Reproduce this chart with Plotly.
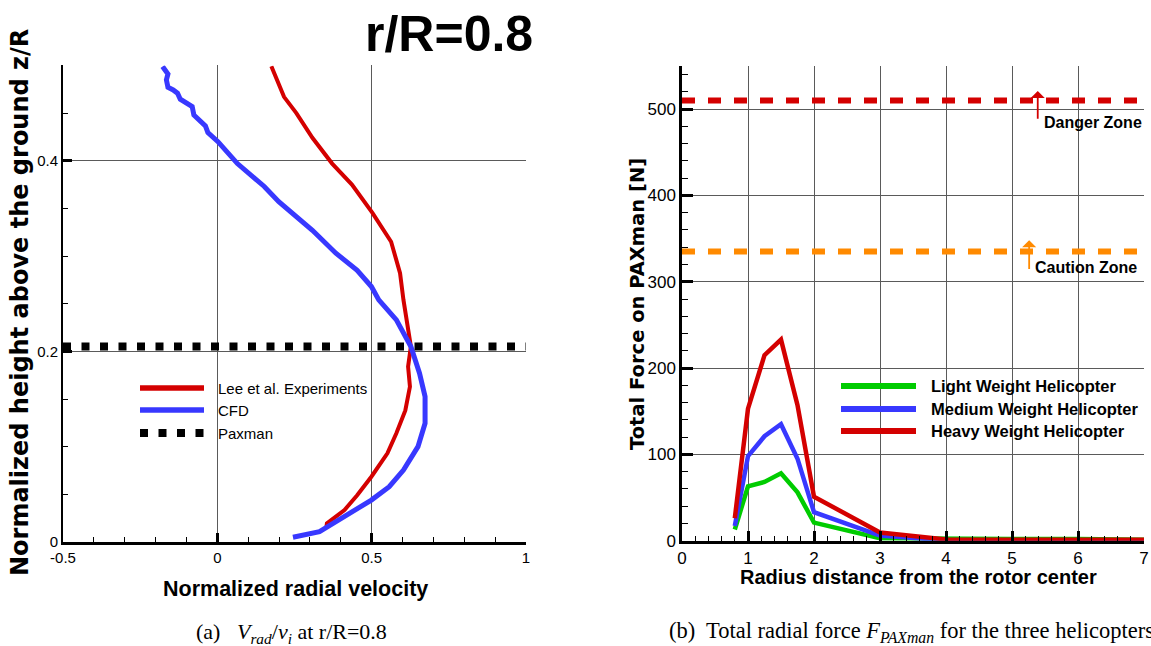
import plotly.graph_objects as go

W, H = 1151, 646

# ---------------- data: left panel (r/R = 0.8) ----------------
lee_x = [0.175, 0.216, 0.256, 0.308, 0.372, 0.436, 0.503, 0.563, 0.592, 0.603,
         0.627, 0.618, 0.624, 0.609, 0.580, 0.551, 0.499, 0.453, 0.412, 0.355, 0.353]
lee_z = [0.499, 0.467, 0.450, 0.424, 0.397, 0.375, 0.345, 0.315, 0.282, 0.254,
         0.205, 0.184, 0.163, 0.138, 0.114, 0.093, 0.0685, 0.049, 0.0336, 0.0196, 0.0147]

cfd_x = [-0.1775, -0.169, -0.160, -0.165, -0.160, -0.143, -0.129, -0.120, -0.102, -0.0815,
         -0.076, -0.056, -0.0386, -0.0306, 0.002, 0.065, 0.152, 0.199, 0.308, 0.384,
         0.453, 0.499, 0.523, 0.580, 0.627, 0.655, 0.673, 0.673, 0.650, 0.603,
         0.557, 0.499, 0.430, 0.360, 0.331, 0.245]
cfd_z = [0.4988, 0.4953, 0.491, 0.4848, 0.477, 0.4743, 0.4708, 0.4645, 0.4603, 0.4568,
         0.448, 0.442, 0.4365, 0.4295, 0.420, 0.397, 0.373, 0.357, 0.327, 0.303,
         0.285, 0.268, 0.254, 0.233, 0.205, 0.177, 0.1525, 0.1245, 0.100, 0.0755,
         0.058, 0.044, 0.030, 0.016, 0.0108, 0.005]

paxman_x = [-0.5, 1.0]
paxman_z = [0.205, 0.205]

left_xticks = [-0.5, 0, 0.5, 1]
left_xticktext = ["-0.5", "0", "0.5", "1"]
left_yticks = [0, 0.2, 0.4]
left_yticktext = ["0", "0.2", "0.4"]

# ---------------- data: right panel (total force) ----------------
radius = [0.8, 1.0, 1.25, 1.5, 1.75, 2.0, 3.0, 4.0, 5.0, 6.0, 7.0]
light_force = [13, 63, 68, 78, 56, 21, 2.8, 2.0, 2.0, 2.0, 1.0]
medium_force = [17, 98, 121, 135, 95, 33, 6, 0.4, 0.4, 0.4, 0.4]
heavy_force = [26, 153, 215, 233, 157, 51, 9.5, 1.5, 1.0, 1.0, 1.0]

zone_x = [0, 7]
danger_force = [510, 510]
caution_force = [335, 335]

right_xticks = [0, 1, 2, 3, 4, 5, 6, 7]
right_yticks = [0, 100, 200, 300, 400, 500]

# ---------------- styling ----------------
RED = "#d40000"
BLUE = "#3838ff"
GREEN = "#00cc00"
ORANGE = "#ff8a00"
SANS = "Liberation Sans, Arial, sans-serif"
SERIF = "Liberation Serif, Times New Roman, serif"
WIDE_B = "DejaVu Sans, Verdana, sans-serif"


def PX(px):
    return px / W


def PY(py):
    return 1 - py / H


fig = go.Figure()

fig.add_trace(go.Scatter(x=lee_x, y=lee_z, mode="lines", xaxis="x", yaxis="y",
                         line=dict(color=RED, width=4), name="Lee et al. Experiments"))
fig.add_trace(go.Scatter(x=cfd_x, y=cfd_z, mode="lines", xaxis="x", yaxis="y",
                         line=dict(color=BLUE, width=5), name="CFD"))
fig.add_trace(go.Scatter(x=paxman_x, y=paxman_z, mode="lines", xaxis="x", yaxis="y",
                         line=dict(color="black", width=8, dash="8px,10.5px"), name="Paxman"))

fig.add_trace(go.Scatter(x=zone_x, y=danger_force, mode="lines", xaxis="x2", yaxis="y2",
                         line=dict(color=RED, width=6, dash="13px,13px"), name="Danger"))
fig.add_trace(go.Scatter(x=zone_x, y=caution_force, mode="lines", xaxis="x2", yaxis="y2",
                         line=dict(color=ORANGE, width=6, dash="13px,13px"), name="Caution"))
fig.add_trace(go.Scatter(x=radius, y=light_force, mode="lines", xaxis="x2", yaxis="y2",
                         line=dict(color=GREEN, width=4.5), name="Light Weight Helicopter"))
fig.add_trace(go.Scatter(x=radius, y=medium_force, mode="lines", xaxis="x2", yaxis="y2",
                         line=dict(color=BLUE, width=4.5), name="Medium Weight Helicopter"))
fig.add_trace(go.Scatter(x=radius, y=heavy_force, mode="lines", xaxis="x2", yaxis="y2",
                         line=dict(color=RED, width=4.5), name="Heavy Weight Helicopter"))

GRID = "#5a5a5a"

fig.update_layout(
    width=W, height=H,
    margin=dict(l=0, r=0, t=0, b=0, autoexpand=False),
    paper_bgcolor="white", plot_bgcolor="white",
    showlegend=False,
    xaxis=dict(domain=[PX(63), PX(526)], range=[-0.5, 1], anchor="y", automargin=False,
               tickmode="array", tickvals=left_xticks, ticktext=left_xticktext,
               ticks="inside", ticklen=9, tickwidth=2.5, tickcolor="black",
               showline=True, linecolor="black", linewidth=3,
               showgrid=True, gridcolor=GRID, gridwidth=1, zeroline=False,
               tickfont=dict(family=SANS, size=15, color="black"),
               minor=dict(tickmode="linear", tick0=-0.5, dtick=0.1, ticks="inside",
                          ticklen=5, tickwidth=1, tickcolor="black", showgrid=False)),
    yaxis=dict(domain=[PY(542), PY(65.4)], range=[0, 0.5], anchor="x", automargin=False,
               tickmode="array", tickvals=left_yticks, ticktext=left_yticktext,
               ticks="inside", ticklen=9, tickwidth=2.5, tickcolor="black",
               showline=True, linecolor="black", linewidth=2,
               showgrid=True, gridcolor=GRID, gridwidth=1, zeroline=False,
               tickfont=dict(family=SANS, size=15, color="black"),
               minor=dict(tickmode="linear", tick0=0, dtick=0.05, ticks="inside",
                          ticklen=5, tickwidth=1, tickcolor="black", showgrid=False)),
    xaxis2=dict(domain=[PX(682), PX(1144)], range=[0, 7], anchor="y2", automargin=False,
                tickmode="array", tickvals=right_xticks,
                ticks="inside", ticklen=10, tickwidth=3, tickcolor="black",
                showline=True, linecolor="black", linewidth=3,
                showgrid=True, gridcolor=GRID, gridwidth=1, zeroline=False,
                tickfont=dict(family=SANS, size=17, color="black"),
                minor=dict(tickmode="linear", tick0=0, dtick=0.2, ticks="inside",
                           ticklen=5, tickwidth=1, tickcolor="black", showgrid=False)),
    yaxis2=dict(domain=[PY(540.7), PY(66)], range=[0, 550], anchor="x2", automargin=False,
                tickmode="array", tickvals=right_yticks,
                ticks="inside", ticklen=11, tickwidth=3, tickcolor="black",
                showline=True, linecolor="black", linewidth=2.5,
                showgrid=True, gridcolor=GRID, gridwidth=1, zeroline=False,
                tickfont=dict(family=SANS, size=17, color="black"),
                minor=dict(tickmode="linear", tick0=0, dtick=20, ticks="inside",
                           ticklen=6, tickwidth=1, tickcolor="black", showgrid=False)),
)

ann = []
shapes = []

# titles / axis titles
ann.append(dict(text="<b>r/R=0.8</b>", x=PX(449), y=PY(34), xref="paper", yref="paper",
                showarrow=False, xanchor="center", yanchor="middle",
                font=dict(family=SANS, size=50, color="black")))
ann.append(dict(text="<b>Normalized radial velocity</b>", x=PX(295), y=PY(589),
                xref="paper", yref="paper", showarrow=False, xanchor="center", yanchor="middle",
                font=dict(family=SANS, size=21.5, color="black")))
ann.append(dict(text="<b>Normalized height above the ground z/R</b>", x=PX(20), y=PY(303),
                xref="paper", yref="paper", showarrow=False, textangle=-90,
                xanchor="center", yanchor="middle",
                font=dict(family=WIDE_B, size=24, color="black")))
ann.append(dict(text="<b>Radius distance from the rotor center</b>", x=PX(918), y=PY(577),
                xref="paper", yref="paper", showarrow=False, xanchor="center", yanchor="middle",
                font=dict(family=SANS, size=20, color="black")))
ann.append(dict(text="<b>Total Force on PAXman [N]</b>", x=PX(637), y=PY(304),
                xref="paper", yref="paper", showarrow=False, textangle=-90,
                xanchor="center", yanchor="middle",
                font=dict(family=WIDE_B, size=19.5, color="black")))

# captions
ann.append(dict(text="(a)&nbsp;&nbsp; <i>V<sub>rad</sub></i>/<i>v<sub>i</sub></i> at r/R=0.8",
                x=PX(291), y=PY(633), xref="paper", yref="paper", showarrow=False,
                xanchor="center", yanchor="middle",
                font=dict(family=SERIF, size=22, color="black")))
ann.append(dict(text="(b)  Total radial force <i>F<sub>PAXman</sub></i> for the three helicopters",
                x=PX(667), y=PY(632), xref="paper", yref="paper", showarrow=False,
                xanchor="left", yanchor="middle",
                font=dict(family=SERIF, size=22.5, color="black")))

# left legend
left_leg = [("Lee et al. Experiments", RED, None, 388, 5.5),
            ("CFD", BLUE, None, 410, 5.5),
            ("Paxman", "black", "8px,10.5px", 433, 8)]
for name, col, dash, py, lw in left_leg:
    shapes.append(dict(type="line", xref="paper", yref="paper", x0=PX(140), x1=PX(204),
                       y0=PY(py), y1=PY(py), line=dict(color=col, width=lw, dash=dash)))
    ann.append(dict(text=name, x=PX(216), y=PY(py), xref="paper", yref="paper",
                    showarrow=False, xanchor="left", yanchor="middle",
                    font=dict(family=SANS, size=15, color="black")))

# right legend
right_leg = [("Light Weight Helicopter", GREEN, 386),
             ("Medium Weight Helicopter", BLUE, 409),
             ("Heavy Weight Helicopter", RED, 431)]
for name, col, py in right_leg:
    shapes.append(dict(type="line", xref="paper", yref="paper", x0=PX(841), x1=PX(916),
                       y0=PY(py), y1=PY(py), line=dict(color=col, width=6)))
    ann.append(dict(text="<b>" + name + "</b>", x=PX(929), y=PY(py), xref="paper", yref="paper",
                    showarrow=False, xanchor="left", yanchor="middle",
                    font=dict(family=SANS, size=16.5, color="black")))

# zone arrows + labels
ann.append(dict(x=5.39, y=521, ax=5.39, ay=487, xref="x2", yref="y2", axref="x2", ayref="y2",
                text="", showarrow=True, arrowhead=1, arrowsize=1.3, arrowwidth=1.8,
                arrowcolor=RED))
ann.append(dict(text="<b>Danger Zone</b>", x=5.455, y=484, xref="x2", yref="y2",
                showarrow=False, xanchor="left", yanchor="middle",
                font=dict(family=SANS, size=16, color="black")))
ann.append(dict(x=5.26, y=348, ax=5.26, ay=313, xref="x2", yref="y2", axref="x2", ayref="y2",
                text="", showarrow=True, arrowhead=1, arrowsize=1.3, arrowwidth=1.8,
                arrowcolor=ORANGE))
ann.append(dict(text="<b>Caution Zone</b>", x=5.32, y=316, xref="x2", yref="y2",
                showarrow=False, xanchor="left", yanchor="middle",
                font=dict(family=SANS, size=16, color="black")))

fig.update_layout(annotations=ann, shapes=shapes)

fig.write_html("out.html", config={"displayModeBar": False},
               post_script="document.body.style.margin='0px';")
